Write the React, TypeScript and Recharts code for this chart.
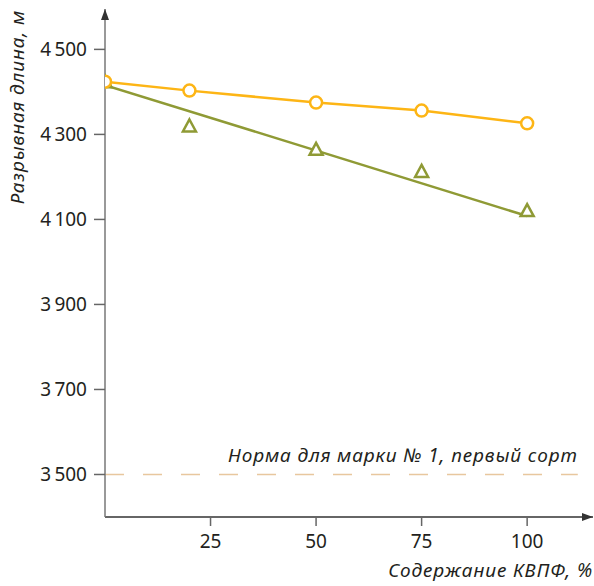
import React from "react";
import {
  ComposedChart,
  Line,
  Scatter,
  XAxis,
  YAxis,
  ReferenceLine,
} from "recharts";

// КВПФ content, %
const contentX = [0, 20, 50, 75, 100];
// Orange series (circles)
const circleValues = [4424, 4403, 4375, 4356, 4326];
// Olive series (triangles)
const triangleValues = [4425, 4321, 4266, 4214, 4122];
// Olive trend line
const trendX = [0, 100];
const trendValues = [4416, 4108];
// Axes
const xTicks = [25, 50, 75, 100];
const yTicks = [3500, 3700, 3900, 4100, 4300, 4500];
const xDomain: [number, number] = [0, 115.6];
const yDomain: [number, number] = [3400, 4595];
// Norm line
const normValue = 3500;
const normEndX = 112;
const normLabel = "Норма для марки № 1, первый сорт";
const xTitle = "Содержание КВПФ, %";
const yTitle = "Разрывная длина, м";

const circleData = contentX.map((x, i) => ({ x, y: circleValues[i] }));
const triangleData = contentX.map((x, i) => ({ x, y: triangleValues[i] }));
const trendData = trendX.map((x, i) => ({ x, y: trendValues[i] }));

const ORANGE = "#FDB515";
const OLIVE = "#8F9A35";
const TEXT = "#231F20";
const FONT = "'Noto Sans', sans-serif";
const ITALIC_SIZE = 19;
const ITALIC_SPACING = 0.9;

const fmt = (v: number) => {
  const s = String(v);
  return s.length > 3 ? s.slice(0, s.length - 3) + "\u2009" + s.slice(-3) : s;
};

const Triangle = (props: any) => {
  const { cx, cy } = props;
  if (cx == null || cy == null) return null;
  const h = 12;
  const w = 13;
  const pts = `${cx},${cy - h / 2} ${cx + w / 2},${cy + h / 2} ${cx - w / 2},${cy + h / 2}`;
  return (
    <polygon
      points={pts}
      fill="#fff"
      stroke={OLIVE}
      strokeWidth={2.5}
      strokeLinejoin="miter"
    />
  );
};

export default function App() {
  return (
    <div style={{ position: "absolute", left: 0, top: 0 }}>
      <ComposedChart
        width={594}
        height={586}
        margin={{ top: 9, right: 1, bottom: 0, left: 0 }}
        style={{ fontFamily: FONT }}
      >
        <defs>
          <marker
            id="arrowEnd"
            viewBox="0 0 11 8"
            refX="11"
            refY="4"
            markerWidth="11"
            markerHeight="8"
            markerUnits="userSpaceOnUse"
            orient="auto"
          >
            <path d="M0,0 L11,4 L0,8 z" fill="#333" />
          </marker>
          <marker
            id="arrowStart"
            viewBox="0 0 11 8"
            refX="11"
            refY="4"
            markerWidth="11"
            markerHeight="8"
            markerUnits="userSpaceOnUse"
            orient="auto-start-reverse"
          >
            <path d="M0,0 L11,4 L0,8 z" fill="#333" />
          </marker>
        </defs>
        <XAxis
          type="number"
          dataKey="x"
          domain={xDomain}
          ticks={xTicks}
          allowDataOverflow
          height={69}
          tickSize={9}
          tickMargin={9}
          tick={{ fill: TEXT, fontSize: 19, fontFamily: FONT }}
          tickLine={{ stroke: "#666", strokeWidth: 1.5 }}
          axisLine={{ stroke: "#333", strokeWidth: 1.5, markerEnd: "url(#arrowEnd)" } as any}
          label={(p: any) => {
            const vb = p.viewBox;
            return (
              <text
                x={vb.x + vb.width}
                y={577}
                textAnchor="end"
                fill={TEXT}
                fontSize={ITALIC_SIZE}
                letterSpacing={ITALIC_SPACING}
                fontStyle="italic"
                fontFamily={FONT}
              >
                {xTitle}
              </text>
            );
          }}
        />
        <YAxis
          type="number"
          dataKey="y"
          domain={yDomain}
          ticks={yTicks}
          allowDataOverflow
          width={105}
          tickSize={11}
          tickMargin={7}
          tickFormatter={fmt}
          tick={{ fill: TEXT, fontSize: 19, fontFamily: FONT }}
          tickLine={{ stroke: "#666", strokeWidth: 1.5 }}
          axisLine={{ stroke: "#777", strokeWidth: 1.5, markerStart: "url(#arrowStart)" } as any}
          label={(p: any) => {
            const vb = p.viewBox;
            const x = 24;
            const y = vb.y + 1;
            return (
              <text
                x={x}
                y={y}
                transform={`rotate(-90, ${x}, ${y})`}
                textAnchor="end"
                fill={TEXT}
                fontSize={ITALIC_SIZE}
                letterSpacing={ITALIC_SPACING}
                fontStyle="italic"
                fontFamily={FONT}
              >
                {yTitle}
              </text>
            );
          }}
        />
        <ReferenceLine
          segment={[
            { x: 0, y: normValue },
            { x: normEndX, y: normValue },
          ]}
          stroke="#E8C79E"
          strokeWidth={1.5}
          strokeDasharray="19 19"
          label={(p: any) => {
            const vb = p.viewBox;
            return (
              <text
                x={vb.x + vb.width}
                y={vb.y - 12}
                textAnchor="end"
                fill={TEXT}
                fontSize={ITALIC_SIZE}
                letterSpacing={ITALIC_SPACING}
                fontStyle="italic"
                fontFamily={FONT}
              >
                {normLabel}
              </text>
            );
          }}
        />
        <Line
          data={trendData}
          dataKey="y"
          type="linear"
          stroke={OLIVE}
          strokeWidth={2.5}
          dot={false}
          activeDot={false}
          isAnimationActive={false}
        />
        <Scatter
          data={triangleData}
          dataKey="y"
          shape={<Triangle />}
          isAnimationActive={false}
        />
        <Line
          data={circleData}
          dataKey="y"
          type="linear"
          stroke={ORANGE}
          strokeWidth={2.5}
          dot={{ r: 6, fill: "#fff", stroke: ORANGE, strokeWidth: 2.5 }}
          activeDot={false}
          isAnimationActive={false}
        />
      </ComposedChart>
    </div>
  );
}
